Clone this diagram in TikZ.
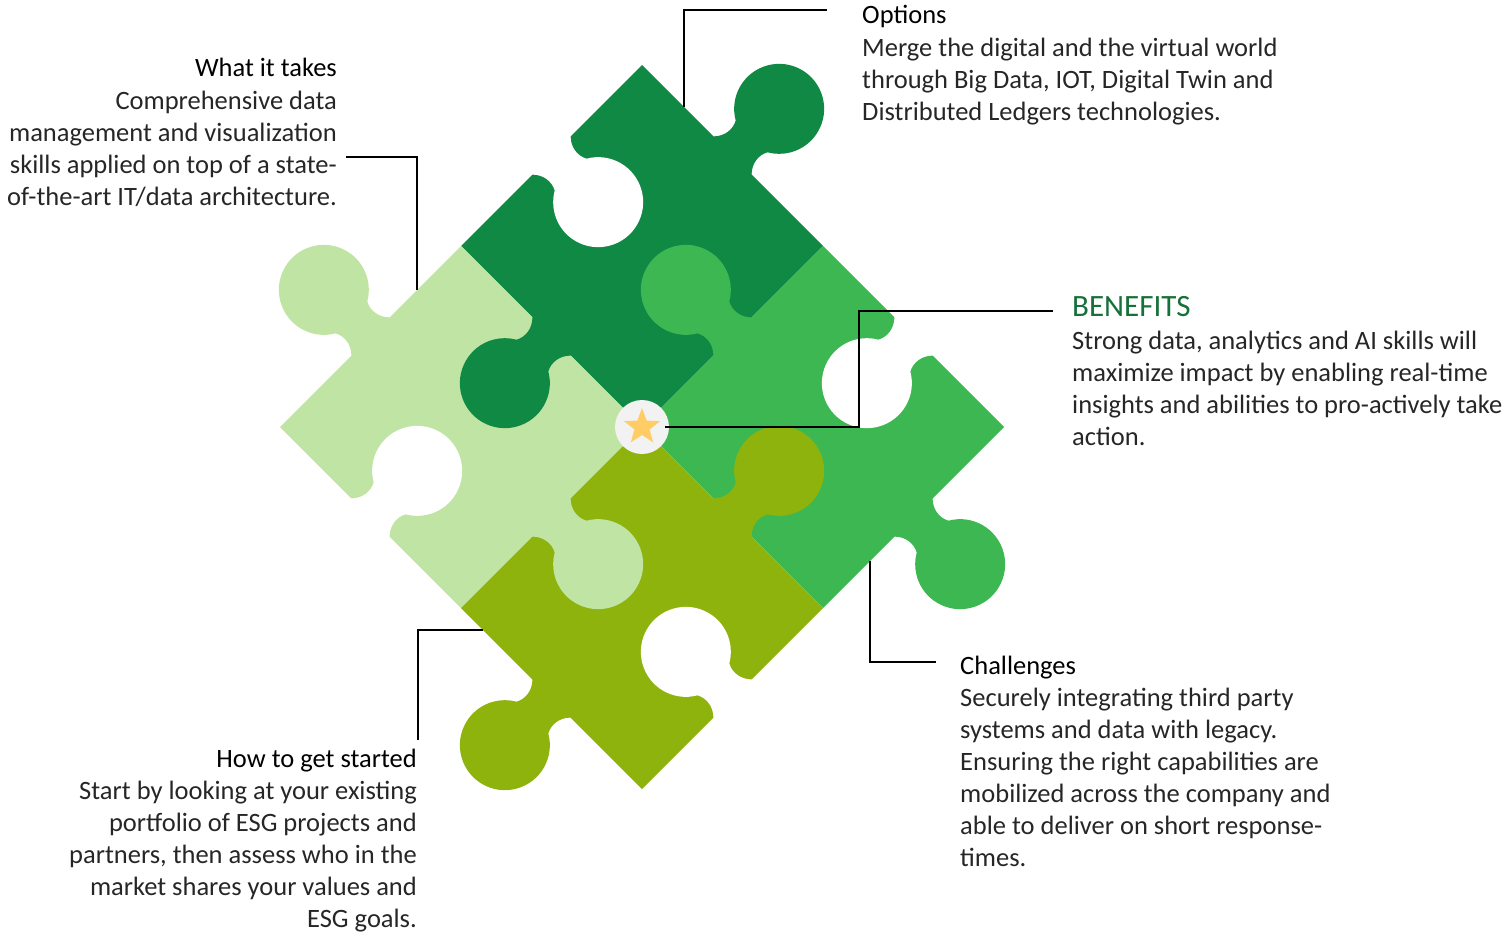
\documentclass[tikz,border=0pt]{standalone}
\usepackage{fontspec}
\setmainfont{Carlito}
\usetikzlibrary{shapes.geometric,positioning,calc}

\definecolor{darkpiece}{RGB}{16,137,69}
\definecolor{midpiece}{RGB}{60,183,81}
\definecolor{lightpiece}{RGB}{192,228,163}
\definecolor{olivepiece}{RGB}{142,179,12}
\definecolor{benefitgreen}{RGB}{22,112,58}
\definecolor{badgegray}{RGB}{242,242,242}
\definecolor{stargold}{RGB}{255,204,102}

% first line of a text block always rises 22pt above its baseline
\newcommand\firstrise{\rule{0pt}{22pt}}

\tikzset{
  heading/.style={font=\fontsize{26.5}{32}\selectfont, inner sep=0pt},
  blurb/.style={font=\fontsize{26.5}{32}\selectfont, text=black!85, inner sep=0pt},
  leader/.style={line width=2pt},
}

\begin{document}
\begin{tikzpicture}[x=1pt,y=1pt]
  \useasboundingbox (0,0) rectangle (1506,-931);

  % the four pieces
  \foreach \cx/\cy/\col in {642/246/darkpiece, 461/427/lightpiece, 823/427/midpiece, 642/608/olivepiece}
    \fill[\col] (\cx,-\cy) ++(0,181) -- ++(181,-181) -- ++(-181,-181) -- ++(-181,181) -- cycle;

  % knobs in the piece colour, holes in white
  \foreach \mx/\my/\ang/\col in {732.5/155.5/45/darkpiece, 551.5/336.5/225/darkpiece,
      370.5/336.5/135/lightpiece, 551.5/517.5/315/lightpiece,
      732.5/336.5/135/midpiece, 913.5/517.5/315/midpiece,
      732.5/517.5/45/olivepiece, 551.5/698.5/225/olivepiece,
      551.5/155.5/315/white, 370.5/517.5/45/white,
      913.5/336.5/225/white, 732.5/698.5/135/white}
    \fill[\col, shift={(\mx,-\my)}, rotate=\ang-90]
      (-27,-1.5) -- (-27,0) .. controls (-19,8) and (-18,19) .. (-22.5,27)
      arc[start angle=240, end angle=-60, radius=45pt]
      .. controls (18,19) and (19,8) .. (27,0) -- (27,-1.5) -- cycle;

  % centre badge
  \node[circle, fill=badgegray, minimum size=54pt, inner sep=0pt] (badge) at (642,-427) {};
  \node[star, star points=5, star point ratio=2.4, fill=stargold, minimum size=38pt, inner sep=0pt] (badgestar) at (badge) {};

  % texts
  \node[heading, anchor=base east] (what) at (337,-77) {What it takes};
  \node[blurb, align=right, below=10pt of what.base east, anchor=north east] (whatbody)
    {\firstrise Comprehensive data\\management and visualization\\skills applied on top of a state-\\of-the-art IT/data architecture.};

  \node[heading, anchor=base west] (opt) at (862,-24) {Options};
  \node[blurb, align=left, below=10pt of opt.base west, anchor=north west] (optbody)
    {\firstrise Merge the digital and the virtual world\\through Big Data, IOT, Digital Twin and\\Distributed Ledgers technologies.};

  \node[heading, font=\fontsize{31}{32}\selectfont, text=benefitgreen, anchor=base west] (ben) at (1072,-316) {BENEFITS};
  \node[blurb, align=left, below=11pt of ben.base west, anchor=north west] (benbody)
    {\firstrise Strong data, analytics and AI skills will\\maximize impact by enabling real-time\\insights and abilities to pro-actively take\\action.};

  \node[heading, anchor=base west] (chal) at (960,-674) {Challenges};
  \node[blurb, align=left, below=10pt of chal.base west, anchor=north west] (chalbody)
    {\firstrise Securely integrating third party\\systems and data with legacy.\\Ensuring the right capabilities are\\mobilized across the company and\\able to deliver on short response-\\times.};

  \node[heading, anchor=base east] (how) at (417,-767) {How to get started};
  \node[blurb, align=right, below=10pt of how.base east, anchor=north east] (howbody)
    {\firstrise Start by looking at your existing\\portfolio of ESG projects and\\partners, then assess who in the\\market shares your values and\\ESG goals.};

  % leader lines
  \coordinate (optpin) at (684,-107);
  \coordinate (optend) at (827,-10);
  \coordinate (whatpin) at (417,-290);
  \coordinate (whatend) at (346,-157);
  \coordinate (benknee) at (859,-311);
  \coordinate (benend) at (1053,-311);
  \coordinate (chalpin) at (870,-561);
  \coordinate (chalend) at (936,-662);
  \coordinate (howpin) at (483,-630);
  \coordinate (howend) at (418,-740);

  \draw[leader] (optpin) |- (optend);
  \draw[leader] (whatend) -| (whatpin);
  \draw[leader] ([xshift=-4pt]badge.east) -| (benknee) -- (benend);
  \draw[leader] (chalpin) |- (chalend);
  \draw[leader] (howpin) -| (howend);
\end{tikzpicture}
\end{document}
